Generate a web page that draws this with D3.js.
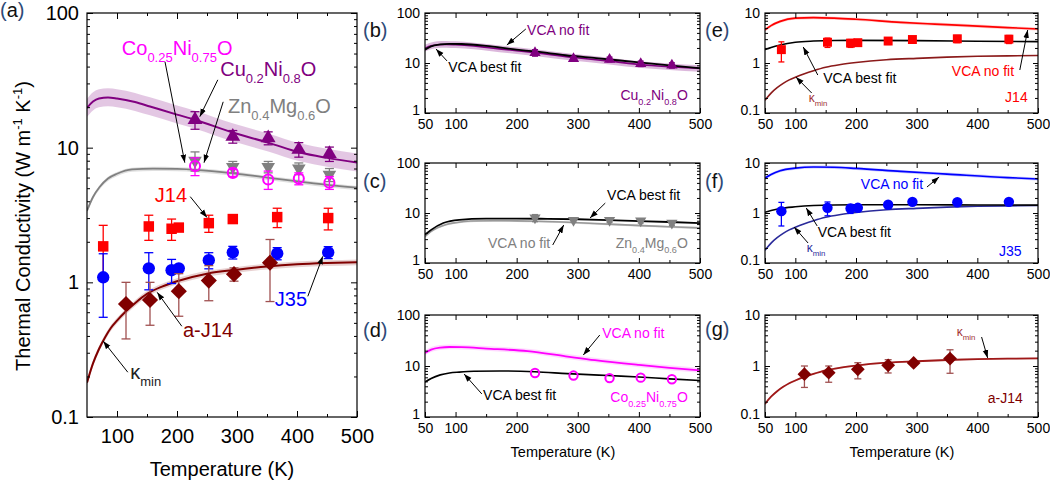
<!DOCTYPE html>
<html><head><meta charset="utf-8">
<script src="https://cdn.jsdelivr.net/npm/d3@7"></script>
<style>body{margin:0;background:#fff}svg{display:block}</style>
</head><body><svg id="c" width="1050" height="483"></svg>
<script>
// ---------- tick labels ----------
const xLabelsMain = [100, 200, 300, 400, 500];
const xLabelsSmall = [50, 100, 200, 300, 400, 500];
const xMajor = [100, 200, 300, 400];
const xMinor = [150, 250, 350, 450];
const yTicksA = [0.1, 1, 10, 100];
const yTicksHigh = [1, 10, 100];
const yTicksLow = [0.1, 1, 10];

// ---------- measured data ----------
const cuT = [230, 293, 352, 403, 454];
const cuK = [16.1, 12.1, 11.8, 9.7, 9.0];
const cuErr = [2.4, 1.3, 1.3, 1.2, 1.1];
const znT = [230, 293, 352, 403, 454];
const znK = [8.0, 7.2, 7.2, 7.0, 6.3];
const znErr = [1.3, 0.7, 0.7, 0.7, 0.7];
const coT = [230, 293, 352, 403, 454];
const coK = [7.3, 6.5, 5.8, 5.9, 5.5];
const coErr = [1.1, 0.4, 0.9, 0.6, 0.6];
const j14T = [77, 153, 191, 203, 253, 293, 367, 452];
const j14K = [1.85, 2.6, 2.5, 2.55, 2.75, 2.95, 3.05, 3.0];
const j14Err = [0.8, 0.55, 0.45, 0.1, 0.4, 0.1, 0.5, 0.55];
const j35T = [77, 153, 191, 203, 253, 293, 367, 452];
const j35K = [1.09, 1.27, 1.23, 1.27, 1.46, 1.67, 1.64, 1.67];
const j35Err = [0.54, 0.39, 0.25, 0.05, 0.2, 0.18, 0.17, 0.17];
const aj14T = [115, 155, 203, 253, 295, 355];
const aj14K = [0.69, 0.74, 0.86, 1.03, 1.15, 1.4];
const aj14Err = [0.31, 0.26, 0.3, 0.3, 0.13, 0.68];

// ---------- model curves ----------
const kminT = [50, 60, 70, 80, 90, 100, 115, 130, 150, 175, 200, 250, 300, 350, 400, 450, 500];
const kminK = [0.18, 0.25, 0.32, 0.39, 0.46, 0.52, 0.61, 0.70, 0.82, 0.93, 1.02, 1.16, 1.24, 1.31, 1.36, 1.39, 1.41];
const cuNoFitT = [50, 60, 70, 85, 100, 130, 155, 200, 230, 294, 352, 405, 450, 500];
const cuNoFitK = [19.7, 22, 23.2, 23.6, 23.2, 21.8, 20.2, 17.6, 16.1, 12.9, 10.9, 9.2, 8.4, 7.75];
const cuFitT = [50, 60, 75, 90, 110, 150, 200, 230, 280, 330, 400, 450, 500];
const cuFitK = [18.5, 21.5, 23.5, 24.2, 24, 22, 18.5, 17, 14.3, 12.5, 10.3, 9, 7.9];
const znNoFitT = [50, 60, 71, 85, 100, 125, 160, 200, 230, 294, 350, 405, 450, 500];
const znNoFitK = [3.4, 4.3, 5.1, 5.9, 6.4, 6.9, 7.0, 6.95, 6.85, 6.45, 6.0, 5.6, 5.3, 5.05];
const znFitT = [50, 60, 80, 106, 150, 200, 250, 300, 350, 400, 450, 500];
const znFitK = [3.7, 4.6, 6.3, 7.3, 7.7, 7.75, 7.65, 7.5, 7.2, 6.9, 6.6, 6.3];
const coNoFitT = [50, 60, 75, 90, 110, 150, 218, 280, 328, 400, 450, 500];
const coNoFitK = [18, 21, 23, 23.6, 23.4, 22, 19.5, 15.5, 13, 10.5, 9.2, 8.2];
const coFitT = [50, 60, 75, 90, 106, 130, 172, 230, 283, 350, 400, 450, 500];
const coFitK = [4.85, 5.7, 6.7, 7.3, 7.6, 7.9, 8.0, 7.7, 7.1, 6.5, 6.1, 5.6, 5.2];
const j14NoFitT = [50, 60, 75, 100, 130, 164, 200, 274, 330, 384, 450, 500];
const j14NoFitK = [4.6, 5.6, 6.8, 7.9, 8.1, 7.9, 7.5, 6.5, 6.0, 5.6, 5.1, 4.8];
const j14FitT = [50, 60, 75, 100, 130, 164, 200, 300, 400, 500];
const j14FitK = [1.85, 2.05, 2.3, 2.6, 2.75, 2.82, 2.83, 2.8, 2.73, 2.67];
const j35NoFitT = [50, 60, 75, 100, 130, 164, 200, 274, 350, 450, 500];
const j35NoFitK = [5.0, 5.9, 7.0, 7.9, 8.3, 8.2, 7.8, 6.8, 6.0, 5.1, 4.8];
const j35FitT = [50, 60, 75, 100, 130, 164, 200, 300, 400, 500];
const j35FitK = [1.03, 1.12, 1.23, 1.33, 1.41, 1.45, 1.46, 1.46, 1.45, 1.44];

// ---------- styles ----------
const FONT = 'Arial, "Liberation Sans", sans-serif';
const PURPLE = '#800080', MAGENTA = '#ff00ff', GRAY = '#808080', RED = '#ff0000', BLUE = '#0000ff', DRED = '#800000', NAVY = '#2a2a9a';

const svg = d3.select('#c');
const defs = svg.append('defs');
defs.append('marker').attr('id', 'ah').attr('viewBox', '0 0 10 10').attr('refX', 10).attr('refY', 5)
  .attr('markerWidth', 8).attr('markerHeight', 8).attr('markerUnits', 'userSpaceOnUse').attr('orient', 'auto')
  .append('path').attr('d', 'M0,1.5L10,5L0,8.5z').attr('fill', '#000');

const zip = (a, b) => a.map((v, i) => [v, b[i]]);

function makePanel(p) {
  const x = d3.scaleLinear().domain([50, 500]).range([p.left, p.right]);
  const y = d3.scaleLog().domain(p.yDomain).range([p.bottom, p.top]);
  const g = svg.append('g');
  const id = 'clip' + p.name;
  defs.append('clipPath').attr('id', id).append('rect')
    .attr('x', p.left).attr('y', p.top).attr('width', p.right - p.left).attr('height', p.bottom - p.top);
  const plot = g.append('g').attr('clip-path', `url(#${id})`);
  const over = g.append('g');
  const P = { x, y, g, plot, over, p };
  drawAxes(P);
  return P;
}

function styleAxis(sel, fs) {
  sel.select('.domain').remove();
  sel.selectAll('line').attr('stroke', '#000').attr('stroke-width', 1);
  sel.selectAll('text').attr('font-family', FONT).attr('font-size', fs).attr('fill', '#000');
}

function drawAxes(P) {
  const { x, y, g, p } = P;
  const M = p.major, m = p.minor;
  const yMinor = [];
  p.yTicks.slice(0, -1).forEach(d => { for (let k = 2; k <= 9; k++) yMinor.push(d * k); });
  const ax = g.append('g');
  ax.append('g').attr('transform', `translate(0,${p.bottom})`)
    .call(d3.axisBottom(x).tickValues(p.xLabels).tickSizeInner(-M).tickSizeOuter(0).tickPadding(p.xPad).tickFormat(d3.format('d')))
    .call(s => styleAxis(s, p.fs));
  ax.append('g').attr('transform', `translate(0,${p.bottom})`)
    .call(d3.axisBottom(x).tickValues(xMinor).tickSizeInner(-m).tickSizeOuter(0).tickFormat(''))
    .call(s => styleAxis(s, p.fs));
  ax.append('g').attr('transform', `translate(0,${p.top})`)
    .call(d3.axisTop(x).tickValues(xMajor).tickSizeInner(-M).tickSizeOuter(0).tickFormat(''))
    .call(s => styleAxis(s, p.fs));
  ax.append('g').attr('transform', `translate(0,${p.top})`)
    .call(d3.axisTop(x).tickValues(xMinor).tickSizeInner(-m).tickSizeOuter(0).tickFormat(''))
    .call(s => styleAxis(s, p.fs));
  const yl = ax.append('g').attr('transform', `translate(${p.left},0)`)
    .call(d3.axisLeft(y).tickValues(p.yTicks).tickSizeInner(-M).tickSizeOuter(0).tickPadding(p.yPad).tickFormat(d => String(d)))
    .call(s => styleAxis(s, p.fs));
  if (p.lowShift) yl.selectAll('.tick').filter(d => d === p.yTicks[0]).select('text').attr('y', -p.lowShift);
  ax.append('g').attr('transform', `translate(${p.left},0)`)
    .call(d3.axisLeft(y).tickValues(yMinor).tickSizeInner(-m).tickSizeOuter(0).tickFormat(''))
    .call(s => styleAxis(s, p.fs));
  ax.append('g').attr('transform', `translate(${p.right},0)`)
    .call(d3.axisRight(y).tickValues(p.yTicks).tickSizeInner(-M).tickSizeOuter(0).tickFormat(''))
    .call(s => styleAxis(s, p.fs));
  ax.append('g').attr('transform', `translate(${p.right},0)`)
    .call(d3.axisRight(y).tickValues(yMinor).tickSizeInner(-m).tickSizeOuter(0).tickFormat(''))
    .call(s => styleAxis(s, p.fs));
  g.append('rect').attr('x', p.left).attr('y', p.top).attr('width', p.right - p.left).attr('height', p.bottom - p.top)
    .attr('fill', 'none').attr('stroke', '#000').attr('stroke-width', 1.2);
}

function band(P, T, K, lo, hi, fill) {
  const a = d3.area().x(d => P.x(d[0])).y0(d => P.y(d[1] * lo)).y1(d => P.y(d[1] * hi)).curve(d3.curveMonotoneX);
  P.plot.append('path').attr('d', a(zip(T, K))).attr('fill', fill).attr('stroke', 'none');
}
function curve(P, T, K, color, w) {
  const l = d3.line().x(d => P.x(d[0])).y(d => P.y(d[1])).curve(d3.curveMonotoneX);
  P.plot.append('path').attr('d', l(zip(T, K))).attr('fill', 'none').attr('stroke', color).attr('stroke-width', w);
}

const diamond = { draw(ctx, size) { const h = Math.sqrt(size / 2); ctx.moveTo(0, -h); ctx.lineTo(h, 0); ctx.lineTo(0, h); ctx.lineTo(-h, 0); ctx.closePath(); } };

function points(P, T, K, E, o) {
  const g = P.over.append('g');
  const cw = o.cap;
  const data = T.map((t, i) => ({ t, k: K[i], e: E[i] }));
  data.forEach(d => {
    if (!d.e) return;
    const x = P.x(d.t), y1 = P.y(d.k + d.e), y0 = P.y(Math.max(d.k - d.e, P.y.domain()[0]));
    const ec = o.errColor || o.color;
    g.append('line').attr('x1', x).attr('x2', x).attr('y1', y1).attr('y2', y0).attr('stroke', ec).attr('stroke-width', 1.3);
    g.append('line').attr('x1', x - cw / 2).attr('x2', x + cw / 2).attr('y1', y1).attr('y2', y1).attr('stroke', ec).attr('stroke-width', 1.3);
    g.append('line').attr('x1', x - cw / 2).attr('x2', x + cw / 2).attr('y1', y0).attr('y2', y0).attr('stroke', ec).attr('stroke-width', 1.3);
  });
  const sym = d3.symbol().type(o.type).size(o.size);
  data.forEach(d => {
    const s = g.append('path').attr('d', sym())
      .attr('transform', `translate(${P.x(d.t)},${P.y(d.k)})${o.rot ? ' rotate(180)' : ''}`);
    if (o.open) s.attr('fill', 'none').attr('stroke', o.color).attr('stroke-width', 2);
    else s.attr('fill', o.color);
  });
}

function label(P, s) {
  const t = P.over.append('text').attr('x', P.x(s.T)).attr('y', P.y(s.k)).attr('fill', s.color)
    .attr('font-size', s.size).attr('font-family', FONT).attr('text-anchor', s.anchor || 'start');
  let shift = 0;
  s.parts.forEach(([str, kind]) => {
    const ts = t.append('tspan').text(str);
    const target = kind === 'sub' ? s.size * 0.35 : kind === 'sup' ? -s.size * 0.4 : 0;
    ts.attr('dy', target - shift); shift = target;
    if (kind) ts.attr('font-size', s.size * 0.65);
  });
}
function arrow(P, a) {
  P.over.append('line').attr('x1', P.x(a[0])).attr('y1', P.y(a[1])).attr('x2', P.x(a[2])).attr('y2', P.y(a[3]))
    .attr('stroke', '#000').attr('stroke-width', 1).attr('marker-end', 'url(#ah)');
}
function plain(x, y, str, size, opts = {}) {
  return svg.append('text').attr('x', x).attr('y', y).attr('font-size', size).attr('font-family', FONT)
    .attr('fill', opts.color || '#000').attr('text-anchor', opts.anchor || 'start').text(str);
}
function panelTag(x, y, letter) {
  const t = svg.append('text').attr('x', x).attr('y', y).attr('font-size', 20).attr('font-family', FONT);
  t.append('tspan').text('(').attr('fill', '#2e4a78');
  t.append('tspan').text(letter).attr('fill', '#111');
  t.append('tspan').text(')').attr('fill', '#2e4a78');
}

const CU = [['Cu'], ['0.2', 'sub'], ['Ni'], ['0.8', 'sub'], ['O']];
const CO = [['Co'], ['0.25', 'sub'], ['Ni'], ['0.75', 'sub'], ['O']];
const ZN = [['Zn'], ['0.4', 'sub'], ['Mg'], ['0.6', 'sub'], ['O']];
const KMIN = [['κ'], ['min', 'sub']];

// ================= Panel (a) =================
const A = makePanel({ name: 'a', left: 87, right: 357, top: 13, bottom: 417, yDomain: [0.1, 100], yTicks: yTicksA,
  xLabels: xLabelsMain, fs: 20, major: 6, minor: 3, xPad: 12, yPad: 8 });
band(A, cuNoFitT, cuNoFitK, 0.86, 1.17, 'rgba(128,0,128,0.22)');
band(A, znNoFitT, znNoFitK, 0.96, 1.03, 'rgba(128,128,128,0.25)');
band(A, kminT, kminK, 0.95, 1.05, 'rgba(128,0,0,0.18)');
curve(A, cuNoFitT, cuNoFitK, PURPLE, 2);
curve(A, znNoFitT, znNoFitK, GRAY, 1.8);
curve(A, kminT, kminK, DRED, 2);
points(A, znT, znK, znErr, { type: d3.symbolTriangle, rot: true, size: 80, color: GRAY, cap: 9 });
points(A, cuT, cuK, cuErr, { type: d3.symbolTriangle, size: 95, color: PURPLE, cap: 9 });
points(A, coT, coK, coErr, { type: d3.symbolCircle, size: 80, color: MAGENTA, open: true, cap: 9 });
points(A, j14T, j14K, j14Err, { type: d3.symbolSquare, size: 110, color: RED, cap: 9 });
points(A, j35T, j35K, j35Err, { type: d3.symbolCircle, size: 120, color: BLUE, cap: 9 });
points(A, aj14T, aj14K, aj14Err, { type: diamond, size: 130, color: DRED, errColor: '#a05050', cap: 9 });
label(A, { T: 108, k: 48.9, parts: CO, color: MAGENTA, size: 20 });
arrow(A, [180, 43.4, 213, 7.74]);
label(A, { T: 272, k: 34.1, parts: CU, color: PURPLE, size: 20 });
arrow(A, [268, 31.9, 238, 17.0]);
label(A, { T: 285, k: 18.1, parts: ZN, color: GRAY, size: 20 });
arrow(A, [277, 21.9, 245, 7.74]);
label(A, { T: 163, k: 3.92, parts: [['J14']], color: RED, size: 20 });
arrow(A, [222, 4.33, 250, 3.03]);
label(A, { T: 363, k: 0.664, parts: [['J35']], color: BLUE, size: 20 });
arrow(A, [418, 0.787, 443, 1.56]);
label(A, { T: 210, k: 0.392, parts: [['a-J14']], color: DRED, size: 20 });
arrow(A, [208, 0.472, 167, 0.843]);
label(A, { T: 122, k: 0.191, parts: KMIN, color: '#222', size: 20 });
arrow(A, [118, 0.215, 77, 0.366]);

plain(222, 476, 'Temperature (K)', 20, { anchor: 'middle' });
{
  const t = svg.append('text').attr('transform', 'translate(30,226) rotate(-90)').attr('text-anchor', 'middle')
    .attr('font-size', 20).attr('font-family', FONT).attr('fill', '#000');
  t.append('tspan').text('Thermal Conductivity (W m');
  t.append('tspan').text('-1').attr('font-size', 13).attr('dy', -8);
  t.append('tspan').text(' K').attr('dy', 8);
  t.append('tspan').text('-1').attr('font-size', 13).attr('dy', -8);
  t.append('tspan').text(')').attr('dy', 8);
}
panelTag(0, 17, 'a');

// ================= Panels (b)-(d) =================
const smallCommon = { fs: 14, major: 5, minor: 3, xPad: 6, yPad: 5, xLabels: xLabelsSmall, lowShift: 3 };
const B = makePanel(Object.assign({ name: 'b', left: 425, right: 700, top: 13, bottom: 113, yDomain: [1, 100], yTicks: yTicksHigh }, smallCommon));
band(B, cuNoFitT, cuNoFitK, 0.86, 1.17, 'rgba(128,0,128,0.28)');
curve(B, cuNoFitT, cuNoFitK, PURPLE, 1.6);
curve(B, cuFitT, cuFitK, '#000', 1.8);
points(B, cuT, cuK, cuErr, { type: d3.symbolTriangle, size: 55, color: PURPLE, cap: 6 });
label(B, { T: 217, k: 36.3, parts: [['VCA no fit']], color: PURPLE, size: 14 });
arrow(B, [215, 47.9, 184, 22.9]);
label(B, { T: 88, k: 6.6, parts: [['VCA best fit']], color: '#000', size: 14 });
arrow(B, [86, 11.0, 68, 19.1]);
label(B, { T: 480, k: 1.82, parts: CU, color: PURPLE, size: 14, anchor: 'end' });
panelTag(363, 37, 'b');

const C = makePanel(Object.assign({ name: 'c', left: 425, right: 700, top: 163, bottom: 263, yDomain: [1, 100], yTicks: yTicksHigh }, smallCommon));
band(C, znNoFitT, znNoFitK, 0.95, 1.04, 'rgba(128,128,128,0.3)');
curve(C, znNoFitT, znNoFitK, '#999', 1.6);
curve(C, znFitT, znFitK, '#000', 1.8);
points(C, znT, znK, znErr, { type: d3.symbolTriangle, rot: true, size: 55, color: GRAY, cap: 6 });
label(C, { T: 348, k: 18.2, parts: [['VCA best fit']], color: '#000', size: 14 });
arrow(C, [345, 15.8, 320, 7.94]);
label(C, { T: 153, k: 2.0, parts: [['VCA no fit']], color: GRAY, size: 14 });
arrow(C, [259, 2.29, 277, 5.75]);
label(C, { T: 480, k: 2.0, parts: ZN, color: GRAY, size: 14, anchor: 'end' });
panelTag(363, 188, 'c');

const D = makePanel(Object.assign({ name: 'd', left: 425, right: 700, top: 315, bottom: 417, yDomain: [1, 100], yTicks: yTicksHigh }, smallCommon));
band(D, coNoFitT, coNoFitK, 0.9, 1.12, 'rgba(255,0,255,0.15)');
curve(D, coNoFitT, coNoFitK, MAGENTA, 1.8);
curve(D, coFitT, coFitK, '#000', 1.6);
points(D, coT, coK, coErr.map(() => 0), { type: d3.symbolCircle, size: 55, color: MAGENTA, open: true, cap: 0 });
label(D, { T: 340, k: 35.4, parts: [['VCA no fit']], color: MAGENTA, size: 14 });
arrow(D, [336, 40.5, 309, 16.4]);
label(D, { T: 145, k: 2.15, parts: [['VCA best fit']], color: '#000', size: 14 });
arrow(D, [143, 2.83, 114, 6.97]);
label(D, { T: 480, k: 1.97, parts: CO, color: MAGENTA, size: 14, anchor: 'end' });
panelTag(363, 337, 'd');
plain(563, 457, 'Temperature (K)', 14.5, { anchor: 'middle' });

// ================= Panels (e)-(g) =================
const E = makePanel(Object.assign({ name: 'e', left: 765, right: 1038, top: 13, bottom: 113, yDomain: [0.1, 10], yTicks: yTicksLow }, smallCommon));
band(E, j14NoFitT, j14NoFitK, 0.93, 1.07, 'rgba(255,0,0,0.2)');
curve(E, j14NoFitT, j14NoFitK, RED, 1.6);
curve(E, j14FitT, j14FitK, '#000', 1.6);
curve(E, kminT, kminK, '#8b1a1a', 1.6);
points(E, j14T, j14K, j14Err, { type: d3.symbolSquare, size: 80, color: RED, cap: 6 });
label(E, { T: 146, k: 0.398, parts: [['VCA best fit']], color: '#000', size: 14 });
arrow(E, [137, 0.575, 113, 2.09]);
label(E, { T: 358, k: 0.55, parts: [['VCA no fit']], color: RED, size: 14 });
arrow(E, [470, 0.724, 483, 4.57]);
label(E, { T: 122, k: 0.166, parts: KMIN, color: '#a03030', size: 12 });
arrow(E, [127, 0.251, 101, 0.525]);
label(E, { T: 483, k: 0.166, parts: [['J14']], color: RED, size: 14, anchor: 'end' });
panelTag(705, 37, 'e');

const F = makePanel(Object.assign({ name: 'f', left: 765, right: 1038, top: 163, bottom: 263, yDomain: [0.1, 10], yTicks: yTicksLow }, smallCommon));
band(F, j35NoFitT, j35NoFitK, 0.93, 1.07, 'rgba(0,0,255,0.2)');
curve(F, j35NoFitT, j35NoFitK, BLUE, 1.6);
curve(F, kminT, kminK, NAVY, 1.6);
curve(F, j35FitT, j35FitK, '#000', 1.6);
points(F, j35T, j35K, j35Err, { type: d3.symbolCircle, size: 85, color: BLUE, cap: 6 });
label(F, { T: 208, k: 3.02, parts: [['VCA no fit']], color: BLUE, size: 14 });
arrow(F, [317, 3.31, 337, 5.25]);
label(F, { T: 137, k: 0.331, parts: [['VCA best fit']], color: '#000', size: 14 });
arrow(F, [136, 0.55, 118, 1.26]);
label(F, { T: 119, k: 0.166, parts: KMIN, color: NAVY, size: 12 });
arrow(F, [121, 0.251, 98, 0.525]);
label(F, { T: 473, k: 0.138, parts: [['J35']], color: BLUE, size: 14, anchor: 'end' });
panelTag(705, 188, 'f');

const G = makePanel(Object.assign({ name: 'g', left: 765, right: 1038, top: 315, bottom: 417, yDomain: [0.1, 10], yTicks: yTicksLow }, smallCommon));
band(G, kminT, kminK, 0.96, 1.04, 'rgba(128,0,0,0.18)');
curve(G, kminT, kminK, '#a01818', 1.8);
points(G, aj14T, aj14K, aj14Err, { type: diamond, size: 95, color: DRED, errColor: '#a05050', cap: 7 });
label(G, { T: 366, k: 3.87, parts: KMIN, color: '#a03030', size: 12 });
arrow(G, [407, 3.7, 417, 1.44]);
label(G, { T: 475, k: 0.188, parts: [['a-J14']], color: DRED, size: 14, anchor: 'end' });
panelTag(705, 336, 'g');
plain(902, 457, 'Temperature (K)', 14.5, { anchor: 'middle' });
</script></body></html>
